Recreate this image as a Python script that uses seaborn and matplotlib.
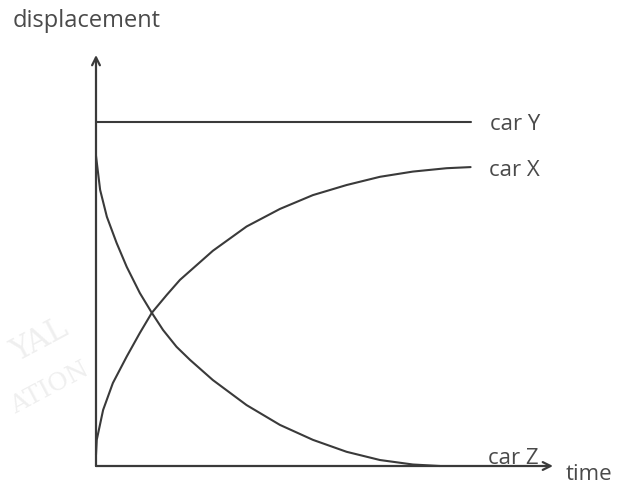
import numpy as np
import matplotlib
matplotlib.use('Agg')
import matplotlib.pyplot as plt
import seaborn as sns
import pandas as pd

sns.set_style('white')
plt.rcParams['font.family'] = ['Open Sans', 'DejaVu Sans']

# values (time, displacement), arbitrary units
car_x_t = [0.0, 0.02, 0.19, 0.45, 0.82, 1.17, 1.49, 1.89, 2.24, 3.12, 4.02,
           4.91, 5.79, 6.69, 7.58, 8.46, 9.36, 10.0]
car_x_d = [0.3, 0.70, 1.50, 2.22, 2.93, 3.56, 4.10, 4.58, 4.98, 5.76, 6.41,
           6.88, 7.25, 7.52, 7.74, 7.88, 7.97, 8.0]
car_y_t = [0.0, 10.0]
car_y_d = [9.2, 9.2]
car_z_t = [0.0, 0.11, 0.29, 0.55, 0.82, 1.17, 1.49, 1.79, 2.15, 2.51, 3.12,
           4.02, 4.91, 5.79, 6.69, 7.58, 8.46, 9.18]
car_z_d = [8.3, 7.39, 6.67, 5.97, 5.33, 4.63, 4.10, 3.64, 3.19, 2.84, 2.30,
           1.63, 1.10, 0.70, 0.38, 0.16, 0.04, 0.0]

df = pd.concat([
    pd.DataFrame({'time': car_x_t, 'disp': car_x_d, 'car': 'car X'}),
    pd.DataFrame({'time': car_y_t, 'disp': car_y_d, 'car': 'car Y'}),
    pd.DataFrame({'time': car_z_t, 'disp': car_z_d, 'car': 'car Z'}),
], ignore_index=True)

W, H = 617, 487
fig = plt.figure(figsize=(W / 100, H / 100), dpi=100)
ax = fig.add_axes([96 / W, 21 / H, 457 / W, 411 / H])
ink = '#3a3a3a'

for name, g in df.groupby('car'):
    sns.lineplot(data=g, x='time', y='disp', ax=ax, color=ink, lw=1.5,
                 sort=False, estimator=None, clip_on=False)

ax.set_xlim(0, 12.2)
ax.set_ylim(0, 11)
for s in ax.spines.values():
    s.set_visible(False)
ax.set_xticks([])
ax.set_yticks([])
ax.set_xlabel('')
ax.set_ylabel('')

# axes with open arrow heads
arr = dict(arrowstyle='->', lw=1.6, color=ink, shrinkA=0, shrinkB=0, mutation_scale=14)
ax.annotate('', xy=(12.2, 0), xytext=(0, 0), arrowprops=arr, annotation_clip=False)
ax.annotate('', xy=(0, 11), xytext=(0, 0), arrowprops=arr, annotation_clip=False)

fs = 16
tc = '#4a4a4a'
fig.text(13 / W, 1 - 21 / H, 'displacement', ha='left', va='center', fontsize=17, color=tc)
fig.text(566 / W, 1 - 474 / H, 'time', ha='left', va='center', fontsize=fs, color=tc)
fig.text(490 / W, 1 - 125 / H, 'car Y', ha='left', va='center', fontsize=fs, color=tc)
fig.text(489 / W, 1 - 170 / H, 'car X', ha='left', va='center', fontsize=fs, color=tc)
fig.text(488 / W, 1 - 458 / H, 'car Z', ha='left', va='center', fontsize=fs, color=tc)

# faint watermark left of the axis
fig.text(40 / W, 1 - 340 / H, 'YAL', ha='center', va='center', fontsize=22, rotation=28,
         color='#efefef', family='DejaVu Serif', zorder=0)
fig.text(50 / W, 1 - 388 / H, 'ATION', ha='center', va='center', fontsize=18, rotation=28,
         color='#efefef', family='DejaVu Serif', zorder=0)

fig.savefig('out.png', dpi=100)
